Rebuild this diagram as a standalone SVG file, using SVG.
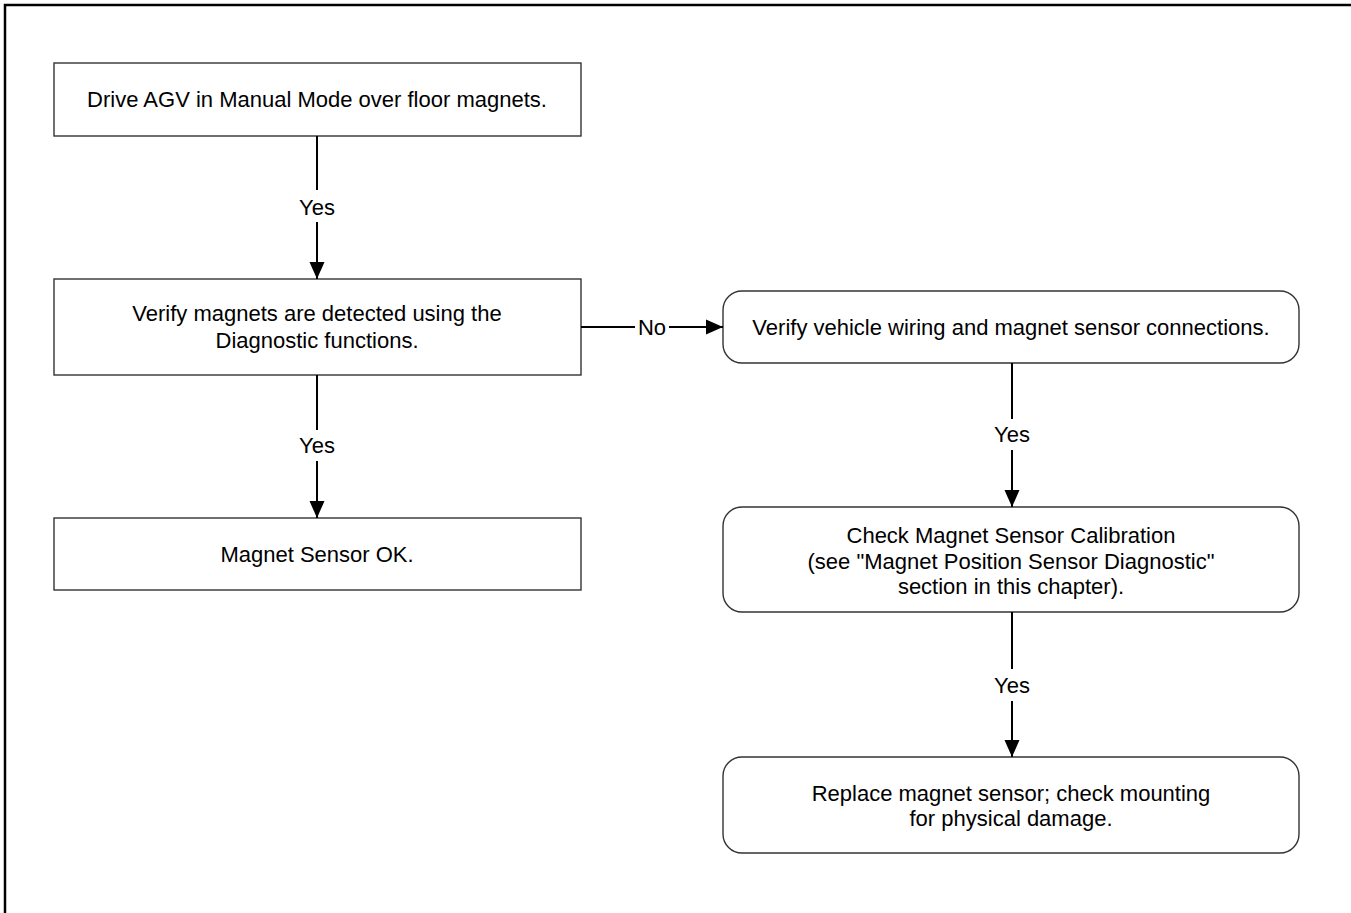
<svg xmlns="http://www.w3.org/2000/svg" width="1351" height="913" viewBox="0 0 1351 913">
  <style>
    .box { fill: #ffffff; stroke: #333333; stroke-width: 1.4; }
    .lbl { font-family: "Liberation Sans", Arial, sans-serif; font-size: 22px; fill: #000000; text-anchor: middle; }
    .edge { stroke: #000000; stroke-width: 2; fill: none; }
    .frame { stroke: #000000; stroke-width: 2.5; fill: none; }
  </style>
  <defs>
    <marker id="arrow" markerUnits="userSpaceOnUse" markerWidth="20" markerHeight="18" refX="18" refY="8.5" orient="auto">
      <path d="M1,1 L18,8.5 L1,16 z" fill="#000000"/>
    </marker>
  </defs>

  <rect x="0" y="0" width="1351" height="913" fill="#ffffff"/>
  <!-- page frame (top and left edges) -->
  <path class="frame" d="M5,913 L5,5 L1351,5"/>

  <g id="n-drive">
    <rect class="box" x="54" y="63" width="527" height="73"/>
    <text class="lbl" x="317" y="107">Drive AGV in Manual Mode over floor magnets.</text>
  </g>

  <g id="n-verify-magnets">
    <rect class="box" x="54" y="279" width="527" height="96"/>
    <text class="lbl" x="317" y="321">Verify magnets are detected using the</text>
    <text class="lbl" x="317" y="348">Diagnostic functions.</text>
  </g>

  <g id="n-sensor-ok">
    <rect class="box" x="54" y="518" width="527" height="72"/>
    <text class="lbl" x="317" y="562">Magnet Sensor OK.</text>
  </g>

  <g id="n-verify-wiring">
    <rect class="box" x="723" y="291" width="576" height="72" rx="19" ry="19"/>
    <text class="lbl" x="1011" y="335">Verify vehicle wiring and magnet sensor connections.</text>
  </g>

  <g id="n-calibration">
    <rect class="box" x="723" y="507" width="576" height="105" rx="19" ry="19"/>
    <text class="lbl" x="1011" y="543">Check Magnet Sensor Calibration</text>
    <text class="lbl" x="1011" y="569">(see "Magnet Position Sensor Diagnostic"</text>
    <text class="lbl" x="1011" y="594">section in this chapter).</text>
  </g>

  <g id="n-replace">
    <rect class="box" x="723" y="757" width="576" height="96" rx="19" ry="19"/>
    <text class="lbl" x="1011" y="801">Replace magnet sensor; check mounting</text>
    <text class="lbl" x="1011" y="826">for physical damage.</text>
  </g>

  <g id="connectors">
    <!-- drive -> verify magnets -->
    <line class="edge" x1="317" y1="136" x2="317" y2="190"/>
    <line class="edge" x1="317" y1="222" x2="317" y2="279" marker-end="url(#arrow)"/>
    <text class="lbl" x="317" y="215">Yes</text>

    <!-- verify magnets -> sensor ok -->
    <line class="edge" x1="317" y1="375" x2="317" y2="430"/>
    <line class="edge" x1="317" y1="461" x2="317" y2="518" marker-end="url(#arrow)"/>
    <text class="lbl" x="317" y="453">Yes</text>

    <!-- verify magnets -> verify wiring -->
    <line class="edge" x1="581" y1="327" x2="635" y2="327"/>
    <line class="edge" x1="669" y1="327" x2="723" y2="327" marker-end="url(#arrow)"/>
    <text class="lbl" x="652" y="335">No</text>

    <!-- verify wiring -> calibration -->
    <line class="edge" x1="1012" y1="363" x2="1012" y2="419"/>
    <line class="edge" x1="1012" y1="450" x2="1012" y2="507" marker-end="url(#arrow)"/>
    <text class="lbl" x="1012" y="442">Yes</text>

    <!-- calibration -> replace -->
    <line class="edge" x1="1012" y1="612" x2="1012" y2="669"/>
    <line class="edge" x1="1012" y1="701" x2="1012" y2="757" marker-end="url(#arrow)"/>
    <text class="lbl" x="1012" y="693">Yes</text>
  </g>
</svg>
